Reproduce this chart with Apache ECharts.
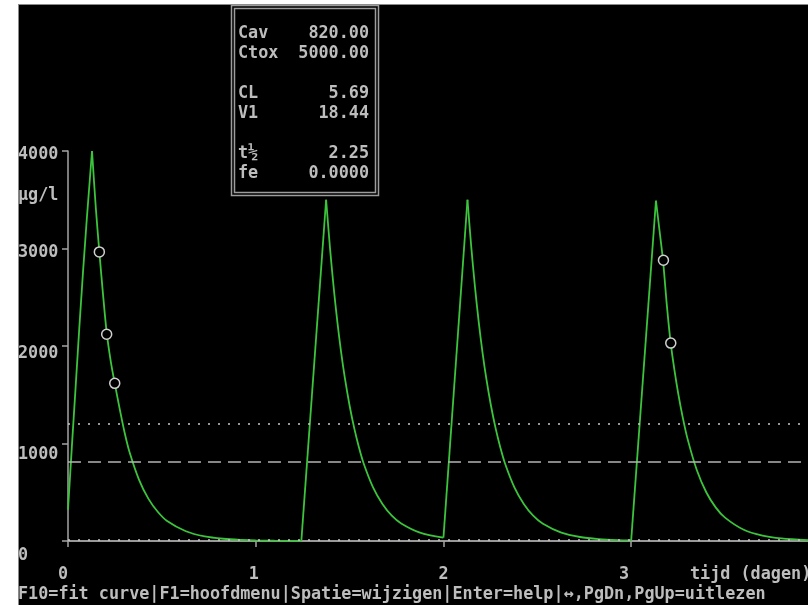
<!DOCTYPE html>
<html>
<head>
<meta charset="utf-8">
<script src="https://cdn.jsdelivr.net/npm/echarts@6/dist/echarts.min.js"></script>
<style>
  html, body { margin: 0; padding: 0; background: #fff; }
  #scr { position: absolute; left: 18px; top: 4px; width: 789px; height: 600px; background: #000;
         border-left: 1px solid #8a8a8a; border-top: 1px solid #8a8a8a; }
  #chart { position: absolute; left: 0; top: 0; width: 808px; height: 605px; }
</style>
</head>
<body>
<div id="scr"></div>
<div id="chart"></div>
<script type="text/javascript">
    var FONT = 'DejaVu Sans Mono';
    var FS = 16.8;
    var FW = 'bold';
    var TXT = '#bdbdbd';
    var AXIS = '#a4a4a4';
    var GREEN = '#3cc43c';

    // axis ticks
    var xTicks = [0, 1, 2, 3];
    var yTicks = [0, 1000, 2000, 3000, 4000];
    var xMax = 3.942;
    var yMax = 4000;

    // concentration curve, [tijd (dagen), ug/l]: infusion rise, then decay from the peak
    var rise1 = [[0, 320], [0.02, 950], [0.04, 1560], [0.06, 2180], [0.08, 2760], [0.1, 3300], [0.128, 4000]];
    var decay1 = [[0.128, 4000], [0.148, 3420], [0.167, 2965], [0.187, 2520], [0.206, 2140], [0.228, 1840],
        [0.249, 1617], [0.278, 1330], [0.303, 1100], [0.328, 910], [0.378, 630], [0.428, 435], [0.478, 300],
        [0.528, 205], [0.628, 100], [0.728, 47], [0.828, 23], [0.928, 11], [1.0, 6], [1.1, 3], [1.243, 1]];
    var rise2 = [[1.243, 1], [1.375, 3500]];
    var decay2 = [[1.375, 3500], [1.395, 3020], [1.415, 2605], [1.435, 2245], [1.455, 1935], [1.475, 1670],
        [1.5, 1390], [1.525, 1155], [1.55, 960], [1.575, 795], [1.625, 550], [1.675, 380], [1.725, 260],
        [1.775, 180], [1.875, 86], [2.0, 34]];
    var rise3 = [[2.0, 34], [2.128, 3500]];
    var decay3 = [[2.128, 3500], [2.148, 3020], [2.168, 2605], [2.188, 2245], [2.208, 1935], [2.228, 1670],
        [2.253, 1390], [2.278, 1155], [2.303, 960], [2.328, 795], [2.378, 550], [2.428, 380], [2.478, 260],
        [2.528, 180], [2.628, 86], [2.728, 41], [2.828, 20], [2.928, 9], [3.0, 6]];
    var rise4 = [[3.0, 6], [3.132, 3490]];
    var decay4 = [[3.132, 3490], [3.15, 3200], [3.17, 2870], [3.19, 2420], [3.21, 2040], [3.23, 1760],
        [3.25, 1520], [3.275, 1265], [3.3, 1050], [3.35, 725], [3.4, 500], [3.45, 345], [3.5, 240],
        [3.6, 115], [3.7, 55], [3.8, 26], [3.942, 9]];

    // measured levels (circles)
    var measured = [[0.167, 2965], [0.206, 2120], [0.249, 1617], [3.172, 2880], [3.211, 2030]];

    // reference levels
    var upperLevel = 1207;
    var cavLevel = 815;
    var lowerLevel = 15;

    // parameter box
    var infoLabels = ['Cav', 'Ctox', 'CL', 'V1', 't½', 'fe'];
    var infoValues = ['820.00', '5000.00', '5.69', '18.44', '2.25', '0.0000'];
    var infoRows = [0, 1, 3, 4, 6, 7];

    // label nudges (text sits on a character grid)
    var yShift = [15, 11, 8, 4, 4];
    var xShift = [5, 2, 0, 7];

    var yRich = {}, xRich = {};
    yShift.forEach(function (s, i) {
        yRich['y' + i] = { fontFamily: FONT, fontSize: FS, fontWeight: FW, color: TXT, padding: [2 * s, 0, 0, 0] };
    });
    xShift.forEach(function (s, i) {
        xRich['x' + i] = { fontFamily: FONT, fontSize: FS, fontWeight: FW, color: TXT, padding: [0, 2 * s, 0, 0] };
    });

    var txt = function (x, y, s, align) {
        return { type: 'text', x: x, y: y, z: 60,
            style: { text: s, fill: TXT, fontFamily: FONT, fontSize: FS, fontWeight: FW,
                     align: align || 'left', verticalAlign: 'middle' } };
    };

    var graphics = [
        { type: 'rect', z: 50, shape: { x: 231.5, y: 5.5, width: 147, height: 190 },
          style: { fill: '#000', stroke: '#9c9c9c', lineWidth: 1.5 } },
        { type: 'rect', z: 51, shape: { x: 234.5, y: 8.5, width: 141, height: 184 },
          style: { fill: null, stroke: '#9c9c9c', lineWidth: 1.5 } },
        txt(18, 196, 'μg/l'),
        txt(690, 575, 'tijd (dagen)'),
        txt(18, 595, 'F10=fit curve|F1=hoofdmenu|Spatie=wijzigen|Enter=help|↔,PgDn,PgUp=uitlezen')
    ];
    infoLabels.forEach(function (l, i) {
        var y = 34 + 20 * infoRows[i];
        graphics.push(txt(238, y, l));
        graphics.push(txt(369, y, infoValues[i], 'right'));
    });

    var lineSeries = function (data, smooth) {
        return {
            type: 'line', data: data, showSymbol: false, z: 3,
            smooth: smooth ? 0.3 : false,
            lineStyle: { color: GREEN, width: 1.8 }
        };
    };

    var series = [
        lineSeries(rise1, false), lineSeries(decay1, true),
        lineSeries(rise2, false), lineSeries(decay2, true),
        lineSeries(rise3, false), lineSeries(decay3, true),
        lineSeries(rise4, false), lineSeries(decay4, true),
        {
            type: 'scatter', data: measured, symbol: 'circle', symbolSize: 10, z: 4,
            itemStyle: { color: '#000', opacity: 1, borderColor: '#d0d0d0', borderWidth: 1.5 }
        }
    ];
    series[0].markLine = {
        silent: true, symbol: 'none', label: { show: false },
        data: [
            { yAxis: upperLevel, lineStyle: { type: [2, 8], color: '#c8c8c8', width: 1.5 } },
            { yAxis: cavLevel, lineStyle: { type: [13, 7], color: '#b4b4b4', width: 1.5 } },
            { yAxis: lowerLevel, lineStyle: { type: [2, 8], color: '#c8c8c8', width: 1.5 } }
        ]
    };

    var myChart = echarts.init(document.getElementById('chart'));
    option = {
        animation: false,
        backgroundColor: 'transparent',
        grid: { left: 68, right: 0, top: 151, bottom: 64, outerBoundsMode: 'none' },
        xAxis: [
            {
                type: 'value', min: 0, max: xMax,
                axisLine: { show: true, onZero: false, lineStyle: { color: AXIS, width: 1.5 } },
                axisTick: { show: true, length: 6, customValues: xTicks, lineStyle: { color: AXIS, width: 1.5 } },
                splitLine: { show: false },
                axisLabel: {
                    customValues: xTicks, margin: 25, verticalAlign: 'top',
                    formatter: function (v) { return '{x' + xTicks.indexOf(v) + '|' + v + '}'; },
                    rich: xRich
                }
            },
            {
                type: 'value', position: 'top', min: 0, max: xMax,
                axisLine: { show: true, lineStyle: { color: AXIS, width: 1.5 } },
                axisTick: { show: false }, axisLabel: { show: false }, splitLine: { show: false }
            }
        ],
        yAxis: {
            type: 'value', min: 0, max: yMax,
            axisLine: { show: true, lineStyle: { color: AXIS, width: 1.5 } },
            axisTick: { show: true, length: 6, customValues: yTicks, lineStyle: { color: AXIS, width: 1.5 } },
            splitLine: { show: false },
            axisLabel: {
                customValues: yTicks, margin: 50, align: 'left',
                formatter: function (v) { return '{y' + yTicks.indexOf(v) + '|' + v + '}'; },
                rich: yRich
            }
        },
        series: series,
        graphic: graphics
    };

    myChart.setOption(option);
</script>
</body>
</html>
